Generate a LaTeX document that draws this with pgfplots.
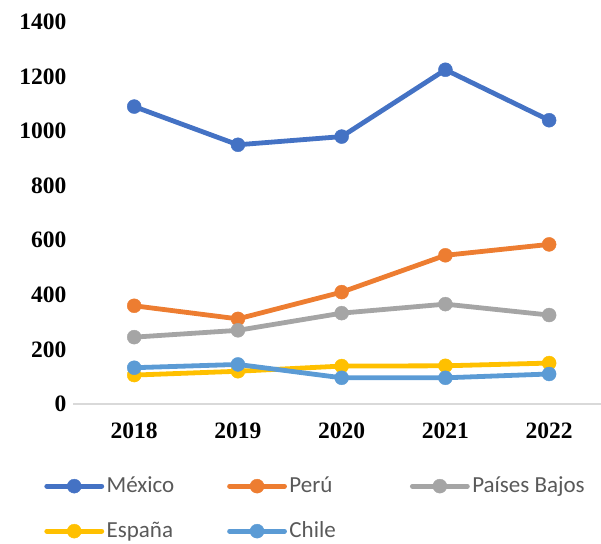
\documentclass[border=0pt]{standalone}
\usepackage{fontspec}
\setmainfont{Liberation Serif}
\newfontfamily\legfont{Carlito}
\usepackage{pgfplots}
\pgfplotsset{compat=1.18}
\definecolor{cMex}{HTML}{4472C4}
\definecolor{cPer}{HTML}{ED7D31}
\definecolor{cPai}{HTML}{A5A5A5}
\definecolor{cEsp}{HTML}{FFC000}
\definecolor{cChi}{HTML}{5B9BD5}
\definecolor{axgray}{HTML}{D9D9D9}
\definecolor{legtext}{HTML}{595959}
\pgfplotsset{
  ser/.style={color=#1, line width=4.8pt, line join=round, line cap=round, mark=*, mark size=7pt,
    mark options={solid, fill=#1, draw=#1, line width=0.4pt}},
}
\newcommand{\legbox}[1]{\makebox[116pt][l]{#1}}
\begin{document}
\begin{tikzpicture}
\useasboundingbox (-73pt,-139pt) rectangle (528pt,404pt);
\begin{axis}[
  at={(0pt,0pt)}, anchor=south west,
  scale only axis, width=528pt, height=382pt,
  xmin=-0.59, xmax=4.5, ymin=0, ymax=1400,
  xtick={0,1,2,3,4}, xticklabels={2018,2019,2020,2021,2022},
  ytick={0,200,400,600,800,1000,1200,1400},
  axis x line*=bottom, axis y line*=left,
  x axis line style={draw=axgray, line width=1.3pt, -},
  y axis line style={draw=none},
  major tick length=0pt, tick style={draw=none},
  /pgf/number format/assume math mode=true,
  /pgf/number format/1000 sep={},
  tick label style={font=\bfseries\fontsize{23.5}{28}\selectfont},
  yticklabel style={xshift=-3pt},
  xticklabel style={yshift=-15pt},
  clip=false,
  legend columns=3,
  legend image code/.code={\draw[mark repeat=2, mark phase=2, #1] plot coordinates {(0pt,0pt) (27.5pt,0pt) (55pt,0pt)};},
  legend style={at={(-0.0603,-0.1805)}, anchor=north west, draw=none, fill=none,
    font=\legfont\fontsize{23}{28}\selectfont, text=legtext,
    column sep=0pt, row sep=23pt,
    /tikz/every even column/.append style={column sep=2pt},
    nodes={inner xsep=2.5pt, inner ysep=0pt, text height=17pt, text depth=5pt}},
  legend cell align=left,
]
\addplot[ser=cMex] coordinates {(0,1090) (1,950) (2,980) (3,1225) (4,1040)};
\addlegendentry{\legbox{México}}
\addplot[ser=cPer] coordinates {(0,360) (1,312) (2,410) (3,545) (4,585)};
\addlegendentry{\legbox{Perú}}
\addplot[ser=cPai] coordinates {(0,245) (1,270) (2,333) (3,366) (4,326)};
\addlegendentry{\legbox{Países Bajos}}
\addplot[ser=cEsp] coordinates {(0,106) (1,120) (2,139) (3,140) (4,150)};
\addlegendentry{\legbox{España}}
\addplot[ser=cChi] coordinates {(0,133) (1,145) (2,96) (3,96) (4,110)};
\addlegendentry{\legbox{Chile}}
\end{axis}
\end{tikzpicture}
\end{document}
